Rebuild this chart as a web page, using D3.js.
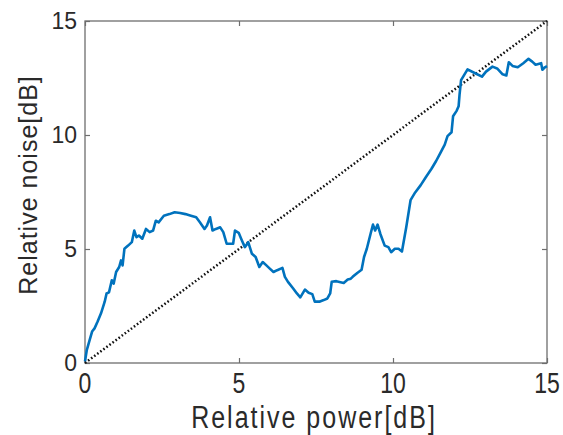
<!DOCTYPE html>
<html>
<head>
<meta charset="utf-8">
<script src="https://cdn.jsdelivr.net/npm/d3@7"></script>
<style>
  body { margin: 0; background: #fff; }
  text { font-family: "Liberation Sans", Arial, sans-serif; fill: #2a2a2a; }
</style>
</head>
<body>
<script>
// relative power [dB]
const powerDb = [0, 0.06, 0.15, 0.23, 0.31, 0.41, 0.52, 0.64, 0.70, 0.78, 0.87, 0.93, 1.01, 1.11, 1.17, 1.22, 1.28, 1.40, 1.52, 1.60, 1.67, 1.75, 1.86, 1.98, 2.10, 2.21, 2.30, 2.39, 2.56, 2.74, 2.91, 3.09, 3.26, 3.44, 3.61, 3.73, 3.88, 3.96, 4.06, 4.14, 4.25, 4.39, 4.49, 4.60, 4.72, 4.81, 4.87, 4.99, 5.07, 5.19, 5.30, 5.42, 5.54, 5.66, 5.77, 5.89, 6.00, 6.12, 6.24, 6.41, 6.49, 6.59, 6.76, 6.88, 6.99, 7.14, 7.26, 7.38, 7.46, 7.61, 7.75, 7.87, 7.96, 8.01, 8.16, 8.40, 8.53, 8.63, 8.69, 8.84, 8.98, 9.06, 9.15, 9.27, 9.35, 9.42, 9.50, 9.59, 9.73, 9.85, 9.94, 10.06, 10.18, 10.29, 10.43, 10.57, 10.72, 10.90, 11.07, 11.25, 11.40, 11.54, 11.68, 11.77, 11.90, 11.95, 12.07, 12.13, 12.16, 12.21, 12.42, 12.65, 12.89, 13.02, 13.23, 13.38, 13.56, 13.68, 13.76, 13.88, 14.05, 14.23, 14.40, 14.52, 14.63, 14.81, 14.85, 14.93, 15.0];
// relative noise [dB]
const noiseDb = [0.07, 0.58, 1.0, 1.38, 1.52, 1.82, 2.18, 2.69, 3.05, 3.1, 3.63, 3.48, 3.99, 4.21, 4.5, 4.28, 5.01, 5.15, 5.30, 5.81, 5.52, 5.59, 5.45, 5.88, 5.74, 5.81, 6.24, 6.17, 6.46, 6.53, 6.61, 6.58, 6.53, 6.46, 6.39, 6.17, 5.88, 6.03, 6.39, 5.81, 5.88, 5.95, 5.74, 5.23, 5.23, 5.23, 5.81, 5.71, 5.45, 5.08, 5.30, 4.79, 4.65, 4.21, 4.43, 4.28, 4.14, 3.99, 4.07, 4.17, 3.78, 3.56, 3.27, 3.05, 2.88, 3.22, 3.08, 3.02, 2.69, 2.69, 2.76, 2.83, 3.05, 3.56, 3.59, 3.51, 3.66, 3.70, 3.78, 3.95, 4.09, 4.65, 5.01, 5.66, 6.07, 5.81, 6.07, 5.66, 5.15, 5.08, 4.86, 5.01, 5.01, 4.89, 5.95, 7.14, 7.48, 7.80, 8.16, 8.52, 8.86, 9.22, 9.58, 9.95, 10.12, 10.82, 11.07, 11.26, 11.76, 12.41, 12.88, 12.72, 12.56, 12.78, 13.00, 12.92, 12.66, 12.61, 13.19, 13.03, 12.97, 13.15, 13.34, 13.22, 13.08, 13.15, 12.86, 12.97, 13.02];
// reference line y = x
const refLine = [0, 15];
const tickVals = [0, 5, 10, 15];

const W = 563, H = 435;
const margin = { top: 21, right: 16, bottom: 72, left: 85 };
const width = W - margin.left - margin.right;
const height = H - margin.top - margin.bottom;

const x = d3.scaleLinear().domain([0, 15]).range([0, width]);
const y = d3.scaleLinear().domain([0, 15]).range([height, 0]);

const svg = d3.select('body').append('svg')
  .attr('width', W).attr('height', H)
  .append('g').attr('transform', 'translate(' + margin.left + ',' + margin.top + ')');

const axisColor = '#6e6e6e';

// ticks point inward on all four sides
function styleAxis(g, hideText) {
  g.select('.domain').remove();
  g.selectAll('.tick line').attr('stroke', axisColor).attr('stroke-width', 1.2);
  if (hideText) g.selectAll('.tick text').remove();
  else g.selectAll('.tick text').style('font-size', '23px').attr('fill', '#2a2a2a');
}

svg.append('g').attr('transform', 'translate(0,' + height + ')')
  .call(d3.axisBottom(x).tickValues(tickVals).tickSizeInner(-5).tickSizeOuter(0))
  .call(g => styleAxis(g, true));
svg.append('g')
  .call(d3.axisTop(x).tickValues(tickVals).tickSizeInner(-5).tickSizeOuter(0))
  .call(g => styleAxis(g, true));
svg.append('g')
  .call(d3.axisLeft(y).tickValues(tickVals).tickSizeInner(-5).tickSizeOuter(0).tickPadding(8))
  .call(g => styleAxis(g, false));
svg.append('g').attr('transform', 'translate(' + width + ',0)')
  .call(d3.axisRight(y).tickValues(tickVals).tickSizeInner(-5).tickSizeOuter(0))
  .call(g => styleAxis(g, true));

// x tick labels are taller than wide in the source, so stretch them a bit
svg.append('g').selectAll('text')
  .data(tickVals)
  .join('text')
  .attr('transform', d => 'translate(' + x(d) + ',' + (height + 30) + ') scale(1,1.28)')
  .attr('text-anchor', 'middle')
  .style('font-size', '23px')
  .text(d => d);

svg.append('rect')
  .attr('x', 0).attr('y', 0).attr('width', width).attr('height', height)
  .attr('fill', 'none').attr('stroke', axisColor).attr('stroke-width', 1.3);

// dotted y = x line
svg.append('path')
  .datum(refLine)
  .attr('fill', 'none')
  .attr('stroke', '#111')
  .attr('stroke-width', 2.5)
  .attr('stroke-dasharray', '1.6,2.2')
  .attr('d', d3.line().x(d => x(d)).y(d => y(d)));

// measured curve
const pts = powerDb.map((p, i) => [p, noiseDb[i]]);
svg.append('path')
  .datum(pts)
  .attr('fill', 'none')
  .attr('stroke', '#0072BD')
  .attr('stroke-width', 2.6)
  .attr('stroke-linejoin', 'round')
  .attr('d', d3.line().x(d => x(d[0])).y(d => y(d[1])));

// axis titles
svg.append('text')
  .attr('transform', 'translate(' + (width / 2 - 2) + ',' + (height + 65) + ') scale(1,1.25)')
  .attr('text-anchor', 'middle')
  .style('font-size', '25px')
  .style('letter-spacing', '2px')
  .text('Relative power[dB]');

svg.append('text')
  .attr('transform', 'translate(' + (-48) + ',' + (height / 2 - 7) + ') rotate(-90)')
  .attr('text-anchor', 'middle')
  .style('font-size', '25px')
  .style('letter-spacing', '1px')
  .text('Relative noise[dB]');
</script>
</body>
</html>
